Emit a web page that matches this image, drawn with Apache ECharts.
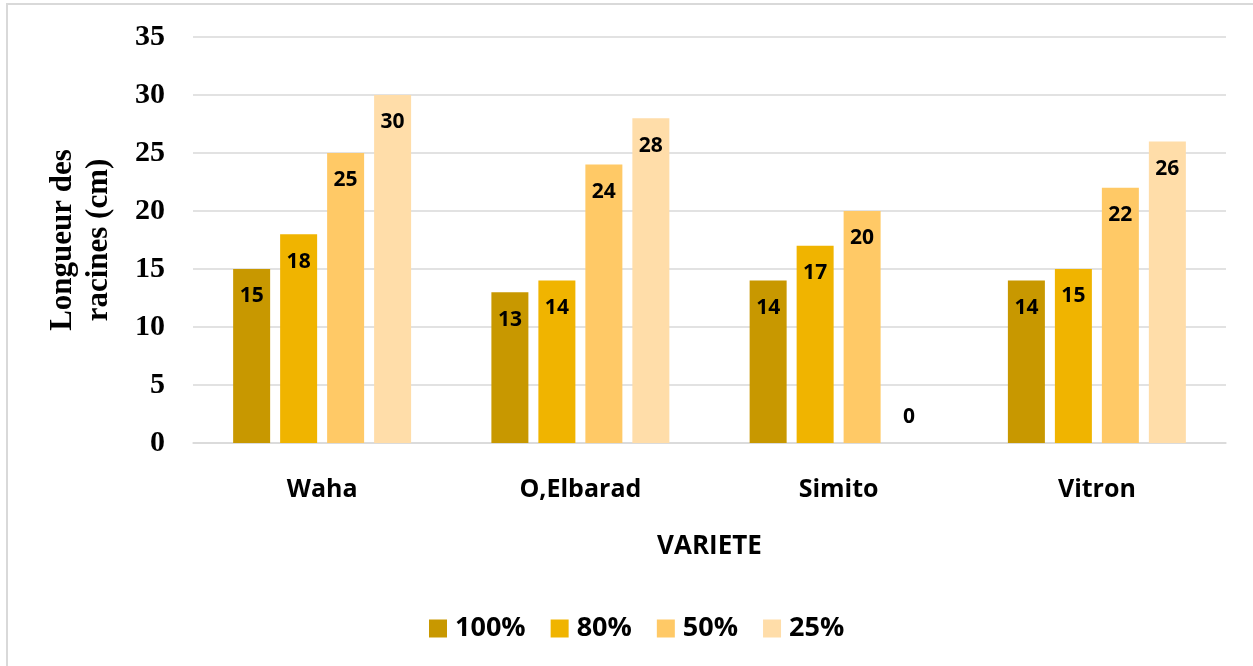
<!DOCTYPE html>
<html>
<head>
<meta charset="utf-8">
<script src="https://cdn.jsdelivr.net/npm/echarts@6/dist/echarts.min.js"></script>
<style>
html,body{margin:0;padding:0;background:#fff;width:1253px;height:666px;overflow:hidden;}
#frame{position:absolute;left:6px;top:3px;width:1400px;height:800px;border-left:2px solid #d9d9d9;border-top:2px solid #d9d9d9;}
#chart{position:absolute;left:0;top:0;width:1253px;height:666px;}
</style>
</head>
<body>
<div id="frame"></div>
<div id="chart"></div>
<script>
const categories = ['Waha', 'O,Elbarad', 'Simito', 'Vitron'];
const seriesNames = ['100%', '80%', '50%', '25%'];
const values100 = [15, 13, 14, 14];
const values80 = [18, 14, 17, 15];
const values50 = [25, 24, 20, 22];
const values25 = [30, 28, 0, 26];
const yTicks = [0, 5, 10, 15, 20, 25, 30, 35];
const colors = ['#C89800', '#F0B400', '#FFC966', '#FFDDA9'];

const allValues = [values100, values80, values50, values25];
const labelFont = { fontFamily: 'Open Sans', fontWeight: 'bold', fontSize: 21, color: '#000' };

function makeData(arr) {
  return arr.map(v => v === 0
    ? { value: v, label: { position: 'top', distance: 15 } }
    : v);
}

const chart = echarts.init(document.getElementById('chart'), null, { renderer: 'canvas' });
chart.setOption({
  animation: false,
  backgroundColor: 'transparent',
  grid: { left: 193, right: 27, top: 37, bottom: 223, containLabel: false },
  legend: {
    left: 424, top: 610,
    itemWidth: 18, itemHeight: 18, itemGap: 25,
    icon: 'rect',
    data: seriesNames,
    textStyle: { fontFamily: 'Open Sans', fontWeight: 'bold', fontSize: 27, color: '#000', padding: [0, 0, 0, 3] }
  },
  xAxis: {
    type: 'category',
    data: categories,
    name: 'VARIETE',
    nameLocation: 'middle',
    nameGap: 91,
    nameTextStyle: { fontFamily: 'Open Sans', fontWeight: 'bold', fontSize: 26, color: '#000' },
    axisLine: { show: true, lineStyle: { color: '#d9d9d9', width: 1.5 } },
    axisTick: { show: false },
    axisLabel: { margin: 34, fontFamily: 'Open Sans', fontWeight: 'bold', fontSize: 25, color: '#000' }
  },
  yAxis: {
    type: 'value',
    min: yTicks[0], max: yTicks[yTicks.length - 1], interval: 5,
    name: 'Longueur des\nracines (cm)',
    nameLocation: 'middle',
    nameRotate: 90,
    nameGap: 76,
    nameTextStyle: { fontFamily: 'Liberation Serif', fontWeight: 'bold', fontSize: 31, color: '#000', lineHeight: 36 },
    axisLine: { show: false },
    axisTick: { show: false },
    splitLine: { lineStyle: { color: '#d9d9d9', width: 1.5 } },
    axisLabel: { margin: 28, fontFamily: 'Liberation Serif', fontWeight: 'bold', fontSize: 30, color: '#000' }
  },
  series: seriesNames.map((name, i) => ({
    name: name,
    type: 'bar',
    data: makeData(allValues[i]),
    barWidth: 37,
    barGap: '27%',
    itemStyle: { color: colors[i] },
    label: Object.assign({ show: true, position: 'insideTop', distance: 17 }, labelFont)
  }))
});
</script>
</body>
</html>
